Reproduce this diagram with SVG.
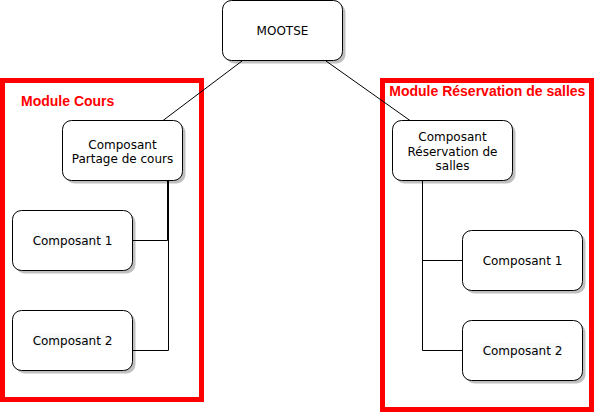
<svg xmlns="http://www.w3.org/2000/svg" width="595" height="413" viewBox="0 0 595 413">
<style>
.box{fill:#fff;stroke:#000;stroke-width:1}
.sh{fill:#000;fill-opacity:0.25;stroke:none}
.mod{fill:none;stroke:#ff0000;stroke-width:5}
.mt{font-family:"Liberation Sans",Arial,sans-serif;font-weight:bold;font-size:14px;fill:#ff0000}
.t{font-family:"DejaVu Sans",Verdana,sans-serif;font-size:12px;fill:#000;text-anchor:middle}
.lbg{fill:#f8f9fa}
.c{fill:none;stroke:#000;stroke-width:1}
</style>
<rect width="595" height="413" fill="#fff"/>
<g id="module-cours">
<rect class="mod" x="2.5" y="80.5" width="199" height="319"/>
<text class="mt" x="21" y="105.5">Module Cours</text>
</g>
<g id="module-reservation">
<rect class="mod" x="382.5" y="80.5" width="209" height="329"/>
<text class="mt" x="389.3" y="95.5">Module Réservation de salles</text>
</g>
<g id="connectors">
<path class="c" d="M242,61 L163,120.5"/>
<path class="c" d="M326,61 L410,120.5"/>
<path class="c" d="M167.5,180.5 V240.5 H132.5"/>
<path class="c" d="M168.5,180.5 V350.5 H132.5"/>
<path class="c" d="M422.5,180.5 V260.5 H462.5"/>
<path class="c" d="M422.5,180.5 V350.5 H462.5"/>
</g>
<g id="mootse">
<rect class="sh" x="225.5" y="3.5" width="120" height="60" rx="9"/>
<rect class="box" x="222.5" y="0.5" width="120" height="60" rx="9"/>
<text class="t" x="282.5" y="35">MOOTSE</text>
</g>
<g id="composant-partage">
<rect class="sh" x="65.5" y="123.5" width="120" height="60" rx="9"/>
<rect class="box" x="62.5" y="120.5" width="120" height="60" rx="9"/>
<text class="t" x="122.5" y="148.5">Composant</text>
<text class="t" x="122.5" y="162.5">Partage de cours</text>
</g>
<g id="cours-composant-1">
<rect class="sh" x="15.5" y="213.5" width="120" height="60" rx="9"/>
<rect class="box" x="12.5" y="210.5" width="120" height="60" rx="9"/>
<rect class="lbg" x="33" y="233" width="79" height="14"/>
<text class="t" x="72.5" y="245">Composant 1</text>
</g>
<g id="cours-composant-2">
<rect class="sh" x="15.5" y="313.5" width="120" height="60" rx="9"/>
<rect class="box" x="12.5" y="310.5" width="120" height="60" rx="9"/>
<rect class="lbg" x="33" y="333" width="79" height="14"/>
<text class="t" x="72.5" y="345">Composant 2</text>
</g>
<g id="composant-reservation">
<rect class="sh" x="395.5" y="123.5" width="120" height="60" rx="9"/>
<rect class="box" x="392.5" y="120.5" width="120" height="60" rx="9"/>
<text class="t" x="452.5" y="141.3">Composant</text>
<text class="t" x="452.5" y="155.6">Réservation de</text>
<text class="t" x="452.5" y="170">salles</text>
</g>
<g id="reservation-composant-1">
<rect class="sh" x="465.5" y="233.5" width="120" height="60" rx="9"/>
<rect class="box" x="462.5" y="230.5" width="120" height="60" rx="9"/>
<text class="t" x="522.5" y="265">Composant 1</text>
</g>
<g id="reservation-composant-2">
<rect class="sh" x="465.5" y="323.5" width="120" height="60" rx="9"/>
<rect class="box" x="462.5" y="320.5" width="120" height="60" rx="9"/>
<rect class="lbg" x="483" y="343" width="79" height="14"/>
<text class="t" x="522.5" y="355">Composant 2</text>
</g>
</svg>
